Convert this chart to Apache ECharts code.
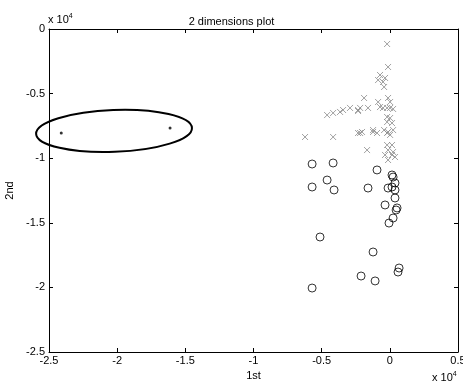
<!DOCTYPE html>
<html><head><meta charset="utf-8">
<script src="https://cdn.jsdelivr.net/npm/echarts@6/dist/echarts.min.js"></script>
<style>html,body{margin:0;padding:0;background:#fff}#c{width:463px;height:381px}</style>
</head><body><div id="c"></div>
<script>
const xTicks = [-25000, -20000, -15000, -10000, -5000, 0, 5000];
const yTicks = [0, -5000, -10000, -15000, -20000, -25000];
const crosses = [[-200,-1160],[-130,-2940],[-350,-3790],[-720,-3560],[-500,-4100],[-860,-3950],[-420,-4490],
[-1890,-5340],[-2180,-6110],[-2330,-6350],[-1600,-6110],[-860,-5650],[-720,-6040],[-130,-5340],[20,-5650],
[-500,-6110],[-200,-6110],[20,-6110],[240,-6190],[-200,-6810],[20,-6890],[-200,-7200],[160,-7280],
[-2040,-7970],[-1230,-7820],[-420,-7820],[-130,-7970],[240,-7820],
[-2180,-8050],[-1230,-7970],[-940,-8050],[-200,-8050],[20,-8200],[-200,-8980],[160,-8980],[-130,-9370],[240,-9520],[-350,-9750],[160,-9750],[380,-9910],[-1670,-9370],[-130,-10140],
[-4600,-6660],[-4160,-6500],[-3650,-6420],[-3430,-6270],[-2920,-6110],[-2330,-6270],
[-6220,-8360],[-4160,-8360],[-2330,-8050]];
const circles = [[-5700,-10450],[-4160,-10370],[-940,-10910],[240,-11460],[380,-11920],[160,-12230],[-130,-12310],[380,-12460],[-5700,-12230],[-4600,-11690],[-4090,-12460],[-1600,-12310],[380,-13080],[-350,-13620],[530,-13850],[460,-14010],[240,-14630],[-60,-15020],[-5120,-16100],[-1230,-17260],[680,-18500],[600,-18810],[-2110,-19120],[-1080,-19500],[-5700,-20050],[160,-11300]];
const dots = [[-24100,-8050],[-16120,-7660]];
const ellipseCenter = [-20230, -7890];
const ellipseRadii = [5720, 1620];

const F = 'Liberation Sans';
const fmt = v => String(+(v/10000).toFixed(2));
const chart = echarts.init(document.getElementById('c'));
const baseAxis = {
  axisLine:{show:true,onZero:false,lineStyle:{color:'#000',width:1}},
  axisTick:{show:true,inside:true,length:4,lineStyle:{color:'#000'}},
  splitLine:{show:false}
};
chart.setOption({
  animation:false,
  backgroundColor:'#fff',
  title:{text:'2 dimensions plot',left:'center',top:11,textStyle:{fontFamily:F,fontSize:11,fontWeight:'normal',color:'#000'}},
  grid:{left:49,right:5,top:29,bottom:29,containLabel:false,outerBoundsMode:'none'},
  xAxis:[
    Object.assign({type:'value',min:xTicks[0],max:xTicks[xTicks.length-1],interval:5000,position:'bottom',
      name:'1st',nameLocation:'middle',nameGap:16,nameTextStyle:{fontFamily:F,fontSize:11,color:'#000'},
      axisLabel:{formatter:fmt,fontFamily:F,fontSize:11,color:'#000',margin:3}},baseAxis),
    Object.assign({type:'value',min:xTicks[0],max:xTicks[xTicks.length-1],interval:5000,position:'top',
      axisLabel:{show:false}},baseAxis)
  ],
  yAxis:[
    Object.assign({type:'value',min:yTicks[yTicks.length-1],max:yTicks[0],interval:5000,position:'left',
      name:'2nd',nameLocation:'middle',nameGap:28,nameTextStyle:{fontFamily:F,fontSize:11,color:'#000'},
      axisLabel:{formatter:fmt,fontFamily:F,fontSize:11,color:'#000',margin:4}},baseAxis),
    Object.assign({type:'value',min:yTicks[yTicks.length-1],max:yTicks[0],interval:5000,position:'right',
      axisLabel:{show:false}},baseAxis)
  ],
  series:[
    {type:'scatter',data:crosses,symbol:'path://M0,0L10,10M10,0L0,10',symbolSize:6,
      itemStyle:{color:'transparent',borderColor:'#8a8a8a',borderWidth:1}},
    {type:'scatter',data:circles,symbol:'circle',symbolSize:8,
      itemStyle:{color:'rgba(0,0,0,0)',borderColor:'#000',borderWidth:1}},
    {type:'scatter',data:dots,symbol:'circle',symbolSize:3,itemStyle:{color:'#000'}}
  ]
});
const c = chart.convertToPixel({gridIndex:0}, ellipseCenter);
const e = chart.convertToPixel({gridIndex:0}, [ellipseCenter[0]+ellipseRadii[0], ellipseCenter[1]-ellipseRadii[1]]);
chart.setOption({graphic:[
  {type:'ellipse',x:c[0],y:c[1],rotation:0.038,shape:{cx:0,cy:0,rx:e[0]-c[0],ry:e[1]-c[1]},
    style:{fill:'none',stroke:'#000',lineWidth:2},z:10},
  {type:'text',left:48,top:13,style:{text:'{a|x 10}{b|4}',rich:{a:{fontFamily:F,fontSize:11,fill:'#000'},b:{fontFamily:F,fontSize:7,fill:'#000',padding:[0,0,6,0]}}}},
  {type:'text',left:432,top:371,style:{text:'{a|x 10}{b|4}',rich:{a:{fontFamily:F,fontSize:11,fill:'#000'},b:{fontFamily:F,fontSize:7,fill:'#000',padding:[0,0,6,0]}}}}
]});
</script></body></html>
